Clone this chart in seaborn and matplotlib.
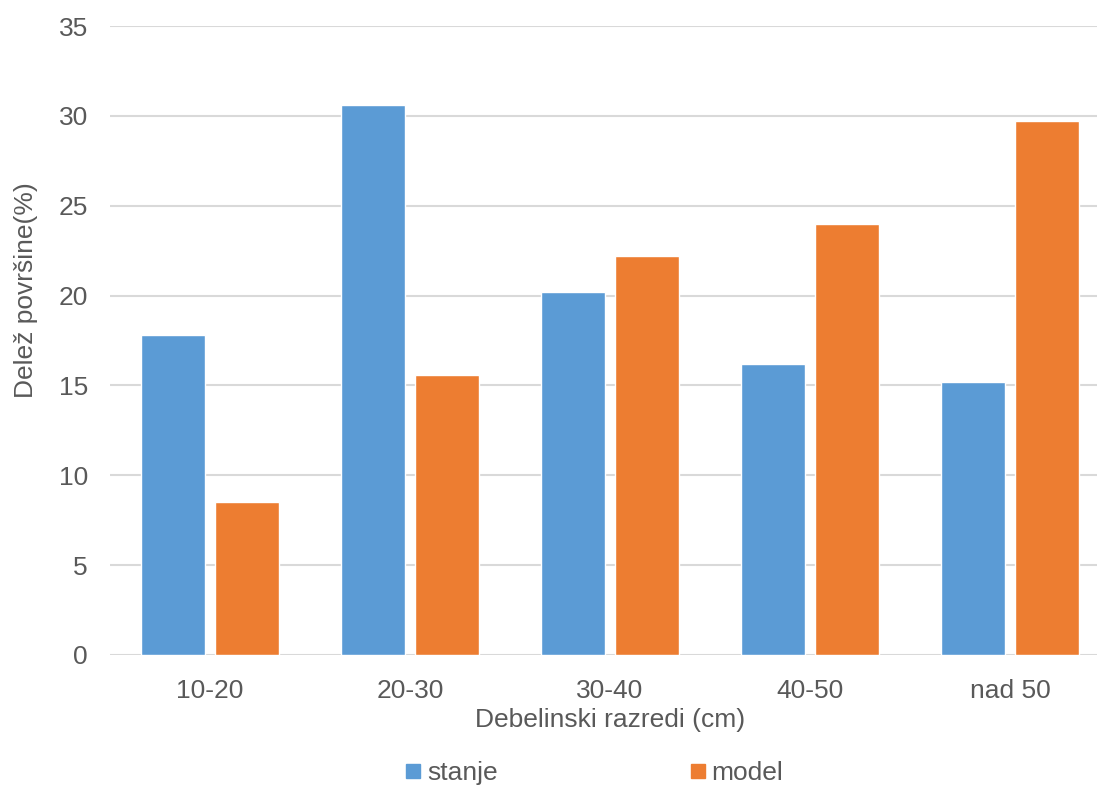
import matplotlib
matplotlib.use("Agg")
import matplotlib.pyplot as plt
import seaborn as sns
import pandas as pd
from matplotlib.lines import Line2D

categories = ["10-20", "20-30", "30-40", "40-50", "nad 50"]
stanje = [17.8, 30.6, 20.2, 16.2, 15.2]
model = [8.5, 15.6, 22.2, 24.0, 29.7]
series_names = ["stanje", "model"]
colors = ["#5B9BD5", "#ED7D31"]

df = pd.DataFrame({
    "razred": categories * 2,
    "vrednost": stanje + model,
    "serija": [series_names[0]] * len(categories) + [series_names[1]] * len(categories),
})

sns.set_theme(style="white")
plt.rcParams['font.family'] = ['Liberation Sans', 'DejaVu Sans']
text_color = "#595959"
fs = 19

fig = plt.figure(figsize=(10.97, 7.85), dpi=100)
ax = fig.add_axes([110/1097, 130/785, 1000/1097, 629/785])

sns.barplot(data=df, x="razred", y="vrednost", hue="serija", palette=colors,
            width=0.74, gap=0.1486, ax=ax, legend=False, saturation=1)

ax.set_ylim(0, 35)
ax.set_xlim(-0.5, 4.5)
ax.set_yticks(range(0, 36, 5))
ax.yaxis.grid(True, color="#D9D9D9", linewidth=1.5)
ax.set_axisbelow(True)
for s in ax.spines.values():
    s.set_visible(False)
ax.tick_params(axis="both", length=0, labelsize=fs, labelcolor=text_color)
ax.tick_params(axis="y", pad=16)
ax.tick_params(axis="x", pad=17)
ax.set_xlabel("Debelinski razredi (cm)", fontsize=fs, color=text_color, labelpad=4)
ax.set_ylabel("Delež površine(%)", fontsize=fs, color=text_color)
ax.yaxis.set_label_coords(-0.072, 0.580)

handles = [Line2D([], [], marker="s", linestyle="none", markersize=10,
                  markerfacecolor=c, markeredgecolor=c) for c in colors]
fig.legend(handles, series_names, loc="center", bbox_to_anchor=(0.542, 0.0153),
           ncol=2, frameon=False, fontsize=fs, labelcolor=text_color,
           handlelength=0.55, handletextpad=0.25, columnspacing=7.3)

fig.savefig("out.png", dpi=100)
